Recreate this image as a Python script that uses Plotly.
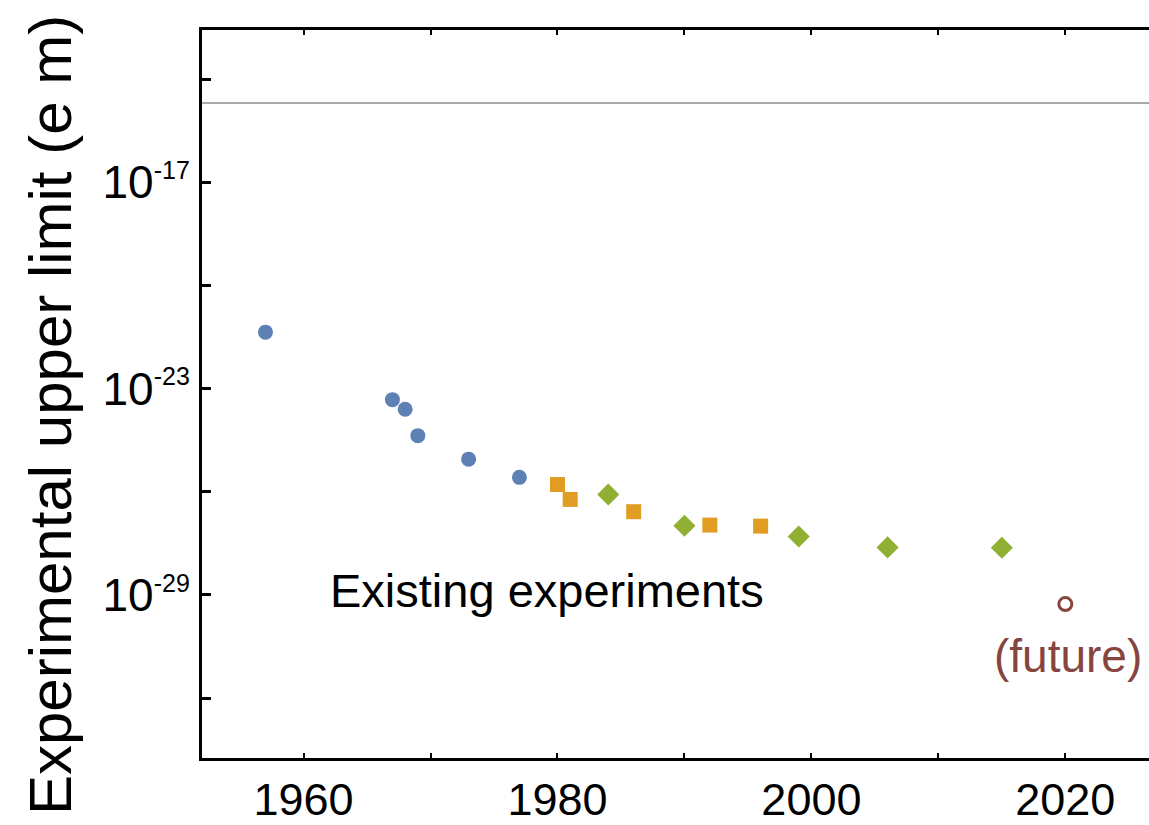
import plotly.graph_objects as go

# ---- data ----
blue_years = [1957, 1967, 1968, 1969, 1973, 1977]
blue_vals = [4.36e-22, 4.76e-24, 2.5e-24, 4.27e-25, 8.85e-26, 2.62e-26]

orange_years = [1980, 1981, 1986, 1992, 1996]
orange_vals = [1.62e-26, 5.97e-27, 2.62e-27, 1.07e-27, 1.0e-27]

green_years = [1984, 1990, 1999, 2006, 2015]
green_vals = [8.3e-27, 1.02e-27, 5.0e-28, 2.4e-28, 2.35e-28]

future_years = [2020]
future_vals = [5.4e-30]

ref_line_value = 2e-15

x_tickvals = [1960, 1970, 1980, 1990, 2000, 2010, 2020]
x_ticktext = ["1960", "", "1980", "", "2000", "", "2020"]

y_exponents = [-32, -29, -26, -23, -20, -17, -14]
y_labelled = [-29, -23, -17]

FONT = "Liberation Sans, Arial, Helvetica, sans-serif"

y_tickvals = [10.0 ** e for e in y_exponents]
y_ticktext = [
    "10<sup><span style='font-size:25px'>%d</span></sup>" % e if e in y_labelled else ""
    for e in y_exponents
]

fig = go.Figure()

fig.add_trace(go.Scatter(x=blue_years, y=blue_vals, mode="markers",
                         marker=dict(symbol="circle", size=15, color="#5E81B5"),
                         showlegend=False))
fig.add_trace(go.Scatter(x=orange_years, y=orange_vals, mode="markers",
                         marker=dict(symbol="square", size=15, color="#E19C24"),
                         showlegend=False))
fig.add_trace(go.Scatter(x=green_years, y=green_vals, mode="markers",
                         marker=dict(symbol="diamond", size=17, color="#8FB032"),
                         showlegend=False))
fig.add_trace(go.Scatter(x=future_years, y=future_vals, mode="markers",
                         marker=dict(symbol="circle-open", size=13, color="#87453F",
                                     line=dict(width=3, color="#87453F")),
                         showlegend=False))

fig.add_hline(y=ref_line_value, line=dict(color="#8c8c8c", width=1.5), layer="below")

fig.add_annotation(text="Existing experiments", x=1979.2, y=-28.87, xref="x", yref="y",
                   showarrow=False, xanchor="center", yanchor="middle",
                   font=dict(family=FONT, size=47, color="black"))
fig.add_annotation(text="(future)", x=2020.2, y=-30.77, xref="x", yref="y",
                   showarrow=False, xanchor="center", yanchor="middle",
                   font=dict(family=FONT, size=46, color="#87453F"))
fig.add_annotation(text="Experimental upper limit (e m)", x=-0.1592, y=0.4714,
                   xref="paper", yref="paper", textangle=-90, showarrow=False,
                   xanchor="center", yanchor="middle",
                   font=dict(family=FONT, size=60, color="black"))

fig.update_xaxes(range=[1952.0, 2026.59], tickmode="array", tickvals=x_tickvals,
                 ticktext=x_ticktext, ticks="inside", ticklen=5, tickwidth=2,
                 tickcolor="black", showline=True, linecolor="black", linewidth=3,
                 mirror="ticks", showgrid=False, zeroline=False,
                 tickfont=dict(family=FONT, size=45, color="black"))
fig.update_yaxes(type="log", range=[-33.744, -12.573], tickmode="array",
                 tickvals=y_tickvals, ticktext=y_ticktext, ticks="inside",
                 ticklen=9, tickwidth=3, tickcolor="black", showline=True,
                 linecolor="black", linewidth=3, showgrid=False, zeroline=False,
                 tickfont=dict(family=FONT, size=46, color="black"))

fig.update_layout(width=1149, height=825, margin=dict(l=202, r=0, t=30, b=61),
                  paper_bgcolor="white", plot_bgcolor="white", showlegend=False)

fig.write_html("out.html")
